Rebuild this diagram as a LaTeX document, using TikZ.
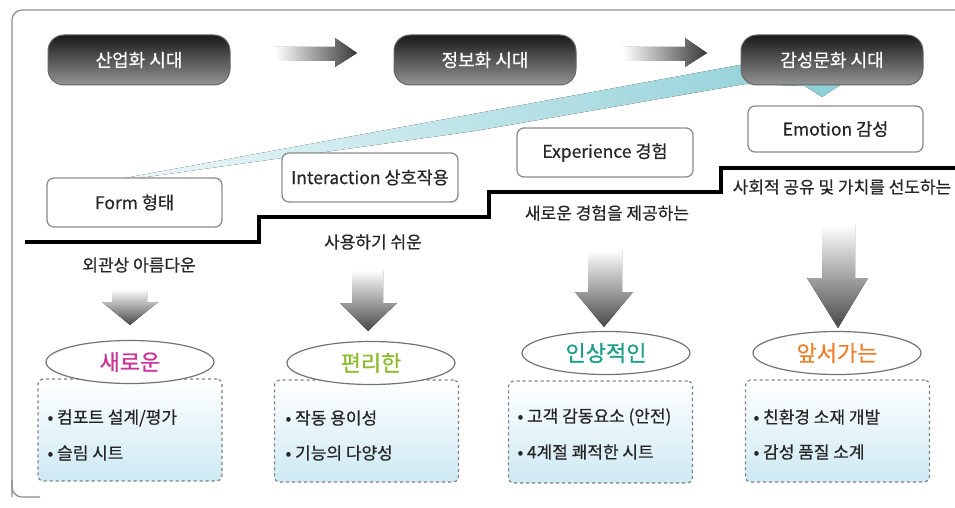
\documentclass[tikz,border=0pt]{standalone}
\usepackage{fontspec}
\setmainfont{Noto Sans CJK KR}[FakeBold=0.5]
\usetikzlibrary{shapes.geometric}
\definecolor{bandR}{RGB}{140,206,214}
\definecolor{bandL}{RGB}{235,247,249}
\definecolor{boxblue}{RGB}{205,233,243}
\definecolor{cMag}{RGB}{204,51,153}
\definecolor{cGrn}{RGB}{140,187,42}
\definecolor{cTeal}{RGB}{26,158,136}
\definecolor{cOrg}{RGB}{240,125,42}
\begin{document}
\begin{tikzpicture}[x=1pt,y=-1pt,
  era/.style={rounded corners=16pt, draw=black!60, line width=1pt,
    top color=black!90, bottom color=black!42, minimum width=182pt,
    minimum height=50pt, text=white, font=\fontsize{18}{20}\selectfont},
  lbox/.style={rounded corners=7pt, draw=black!45, line width=1.3pt, fill=white,
    minimum height=49pt, font=\fontsize{17.5}{19}\selectfont, text=black!85},
  lbl/.style={font=\fontsize{17}{19}\selectfont, text=black!85},
  oval/.style={ellipse, draw=black!55, line width=1.2pt, fill=white,
    minimum width=168pt, minimum height=43pt, font=\fontsize{22}{24}\selectfont},
  dbox/.style={rounded corners=5pt, draw=black!50, dashed, line width=1.2pt,
    top color=white, middle color=white, bottom color=boxblue,
    minimum width=184pt, minimum height=102pt},
  btxt/.style={font=\fontsize{17}{19}\selectfont, text=black!85, anchor=west},
  harrow/.style={left color=white, right color=black!78},
  varrow/.style={top color=white, bottom color=black!72}
]
\useasboundingbox (0,0) rectangle (955,508);
% outer frame
\draw[black!45, line width=1.2pt, rounded corners=10pt] (12,497) -- (12,10) -- (970,10);
\draw[black!45, line width=1.2pt, rounded corners=10pt] (12,480) -- (12,497) -- (40,497);

% light band
\fill[left color=bandL, right color=bandR]
  (125,178) -- (745,64) -- (850,60) -- (840,85) -- (822,97) -- (805,86)
  -- (745,84) -- (475,131) -- (125,180) -- cycle;

% era buttons
\node[era] (eraA) at (139,60) {산업화 시대};
\node[era] (eraB) at (485,60) {정보화 시대};
\node[era] (eraC) at (832,60) {감성문화 시대};

% horizontal arrows
\fill[harrow] (275,47) -- (335,47) -- (335,38) -- (357,53) -- (335,67) -- (335,61) -- (275,61) -- cycle;
\fill[harrow] (623,47) -- (685,47) -- (685,38) -- (707,53) -- (685,67) -- (685,61) -- (623,61) -- cycle;

% label boxes
\node[lbox, minimum width=175pt] (form) at (134.5,202.5) {Form 형태};
\node[lbox, minimum width=176pt] (inter) at (370,177.5) {Interaction 상호작용};
\node[lbox, minimum width=176pt] (exper) at (605,152.5) {Experience 경험};
\node[lbox, minimum width=175pt, minimum height=46pt] (emot) at (835.5,129) {Emotion 감성};

% staircase
\draw[line width=4pt] (25,242) -- (259,242) -- (259,217) -- (489,217) -- (489,192) -- (721,192) -- (721,168) -- (960,168);

% labels under line
\node[lbl] (l1) at (139,265) {외관상 아름다운};
\node[lbl] (l2) at (373,242) {사용하기 쉬운};
\node[lbl] (l3) at (607,213) {새로운 경험을 제공하는};
\node[lbl] (l4) at (842,187) {사회적 공유 및 가치를 선도하는};

% down arrows
\fill[varrow] (112,289) -- (147,289) -- (147,302) -- (158,302) -- (130,325) -- (102,302) -- (112,302) -- cycle;
\fill[varrow] (352,270) -- (383,270) -- (383,303) -- (397,303) -- (368,331) -- (340,303) -- (352,303) -- cycle;
\fill[varrow] (588,250) -- (622,250) -- (622,292) -- (633,292) -- (604,327) -- (575,292) -- (588,292) -- cycle;
\fill[varrow] (822,225) -- (855,225) -- (855,278) -- (868,278) -- (838,328) -- (807,278) -- (822,278) -- cycle;

% dashed boxes
\node[dbox] (d1) at (130,430) {};
\node[dbox] (d2) at (366.5,431) {};
\node[dbox] (d3) at (600.5,432) {};
\node[dbox] (d4) at (837.5,431) {};

% ovals
\node[oval, text=cMag] (o1) at (130,362) {새로운};
\node[oval, text=cGrn] (o2) at (371,363) {편리한};
\node[oval, text=cTeal] (o3) at (606,353) {인상적인};
\node[oval, text=cOrg] (o4) at (837,353) {앞서가는};

% bullet texts
\node[btxt] (b11) at (44,418) {• 컴포트 설계/평가};
\node[btxt] (b12) at (44,453) {• 슬림 시트};
\node[btxt] (b21) at (282,418) {• 작동 용이성};
\node[btxt] (b22) at (282,453) {• 기능의 다양성};
\node[btxt] (b31) at (514,417) {• 고객 감동요소 (안전)};
\node[btxt] (b32) at (514,452) {• 4계절 쾌적한 시트};
\node[btxt] (b41) at (750,417) {• 친환경 소재 개발};
\node[btxt] (b42) at (750,452) {• 감성 품질 소계};
\end{tikzpicture}
\end{document}
